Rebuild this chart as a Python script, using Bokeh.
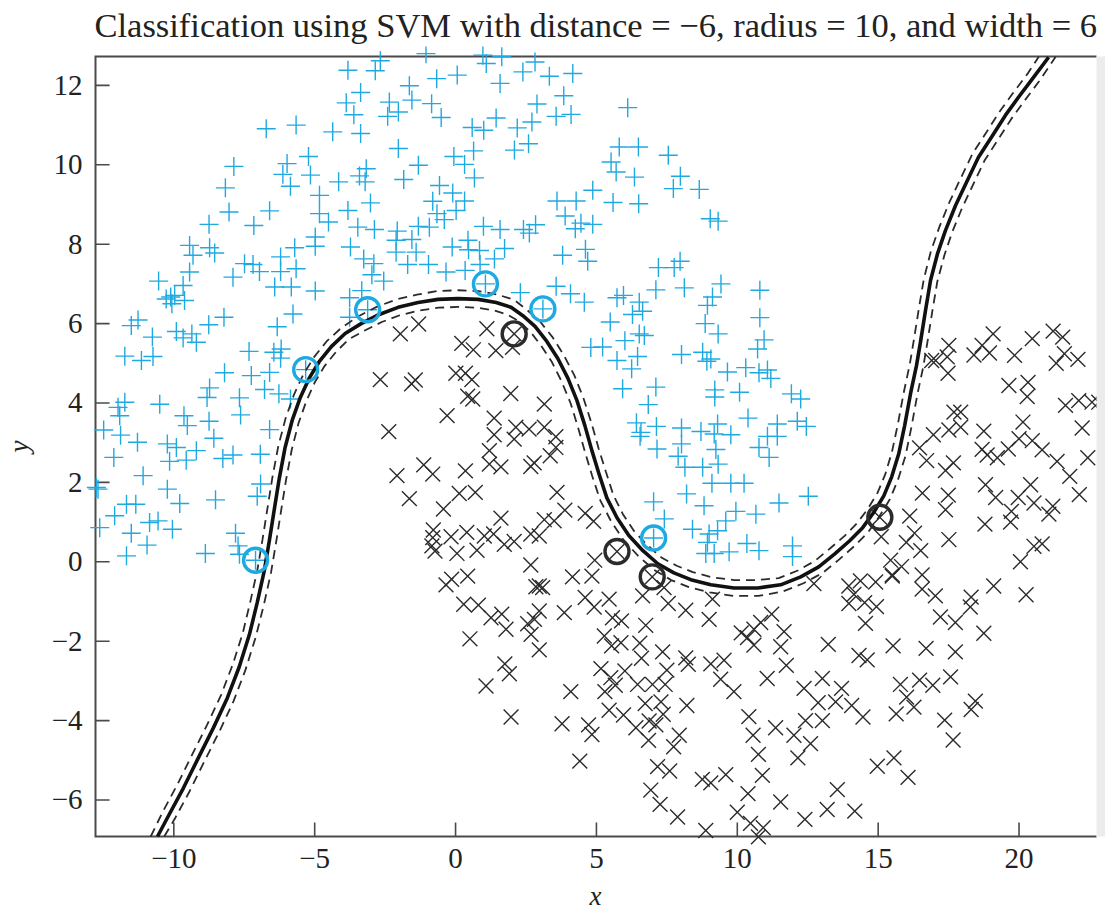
from bokeh.plotting import figure
from bokeh.models import LinearAxis, FixedTicker, Title
from bokeh.embed import file_html
from bokeh.resources import INLINE

title_text = "Classification using SVM with distance = \u22126, radius = 10, and width = 6"
x_ticks = [-10, -5, 0, 5, 10, 15, 20]
y_ticks = [-6, -4, -2, 0, 2, 4, 6, 8, 10, 12]
x_limits = [-12.78, 22.75]
y_limits = [-6.92, 12.73]

plus_points = [
(-3.82,12.38),(-2.67,12.62),(-2.85,12.37),(-1.05,12.8),(-0.67,12.17),(-1.64,11.99),(-3.37,11.82),(-3.88,11.56),
(-2.35,11.58),(-1.55,11.63),(-0.85,11.54),(-3.61,11.26),(-2.41,11.22),(-2.03,11.33),(-0.51,11.19),(-6.72,10.91),
(-5.66,11.0),(-4.36,10.83),(-3.37,10.79),(-2.03,10.41),(-7.87,9.96),(-5.22,10.21),(-5.98,10.03),(-6.13,9.76),
(-5.15,9.74),(-5.86,9.46),(-4.15,9.57),(-3.17,9.9),(-3.41,9.72),(-3.21,9.57),(-1.32,9.99),(-1.84,9.63),(-0.57,9.48),
(-8.17,9.42),(-8.04,8.81),(-6.6,8.84),(-7.16,8.47),(-8.75,8.5),(-4.83,9.23),(-4.83,8.77),(-4.51,8.56),(-3.82,8.85),
(-3.02,9.04),(-3.47,8.43),(-2.88,8.37),(-0.81,9.08),(-0.66,8.77),(-0.4,8.62),(-2.07,8.33),(-1.32,8.45),(-0.93,8.43),
(-2.11,8.1),(-1.55,8.12),(-2.11,7.8),(-1.4,7.8),(-1.7,7.49),(-0.96,7.49),(-0.34,7.3),(-4.98,8.18),(-4.98,7.95),
(-5.71,7.91),(-3.73,7.93),(-3.26,7.63),(-2.9,7.51),(-2.97,7.23),(-2.55,7.07),(-9.44,7.97),(-9.32,7.72),(-8.73,7.91),
(-8.55,7.78),(-7.49,7.51),(-7.19,7.49),(-6.96,7.31),(-6.21,7.68),(-6.21,7.31),(-5.66,7.38),(-7.9,7.17),(-9.44,7.3),
(-9.67,6.96),(-10.54,7.07),(-9.97,6.71),(-10.27,6.62),(-10.11,6.67),(-9.62,6.58),(-10.07,6.5),(-6.42,6.92),(-5.83,6.92),
(-4.98,6.82),(-3.33,6.83),(-3.76,6.65),
(-11.27,6.09),(-11.51,5.95),(-10.76,5.66),(-10.74,5.17),(-11.15,5.07),(-11.74,5.18),(-9.91,5.8),(-9.67,5.64),(-9.36,5.74),
(-9.2,5.53),(-8.76,5.97),(-8.22,6.16),(-5.77,6.24),(-6.33,5.92),(-3.76,6.16),(-7.33,5.3),(-6.45,5.28),(-6.19,5.36),
(-6.21,5.13),(-8.2,4.76),(-7.25,4.69),(-6.6,4.77),(-6.78,4.34),(-6.27,4.23),(-5.86,4.1),(-8.73,4.38),(-8.82,4.14),
(-7.67,4.13),(-7.63,3.7),(-10.5,3.97),(-11.74,4.02),(-11.98,3.89),(-11.92,3.68),(-9.64,3.68),(-9.52,3.43),(-8.75,3.54),
(-12.49,3.32),(-11.89,3.19),(-11.29,3.01),(-10.23,2.97),(-9.91,2.88),(-8.58,3.11),(-6.6,3.33),(-9.2,2.8),(-10.15,2.53),
(-9.56,2.56),(-8.26,2.6),(-7.9,2.69),(-6.93,2.71),(-12.13,2.63),(-11.09,2.17),(-12.75,1.87),(-12.69,1.83),(-6.92,1.96),
(-7.04,1.65),(-10.23,1.83),(-9.79,1.47),(-8.52,1.56),(-11.68,1.45),(-11.35,1.45),(-12.1,1.16),(-12.63,0.86),(-11.51,0.72),
(-10.86,0.99),(-10.56,1.03),(-10.05,0.82),(-10.95,0.42),(-11.68,0.15),(-8.88,0.21),(-7.81,0.72),(-7.72,0.4),(-7.67,0.19),
(0.97,12.76),(1.09,12.55),(1.64,12.72),(2.82,12.59),(2.39,12.34),(3.33,12.23),(4.16,12.3),(0.06,12.26),(1.58,12.05),
(3.84,11.74),(2.89,11.53),(3.57,11.22),(4.1,11.27),(6.11,11.44),(1.44,11.18),(2.71,11.08),(2.19,10.93),(0.59,10.94),
(1.0,10.87),(2.59,10.53),(2.09,10.37),(0.64,10.35),(-0.06,10.21),(0.32,10.01),(0.67,9.67),(5.81,10.45),(6.49,10.45),
(7.55,10.24),(5.52,10.07),(5.7,9.82),(6.35,9.69),(7.98,9.71),(7.73,9.4),(8.65,9.38),(4.87,9.36),(3.6,9.09),(4.28,9.09),
(5.59,9.05),(6.5,9.02),(3.89,8.71),(4.45,8.53),(4.25,8.39),(4.87,8.5),(9.04,8.64),(9.32,8.58),(-0.1,9.29),(0.32,9.09),
(0.02,8.85),(0.99,8.45),(1.58,8.37),(2.41,8.37),(2.84,8.49),(2.62,8.28),(0.44,8.1),(-0.12,7.93),(0.85,7.84),(0.46,7.86),
(1.74,7.89),(1.38,7.63),(0.87,7.49),(3.8,7.72),(4.61,7.87),(4.69,7.57),(0.34,7.34),(7.2,7.41),(7.76,7.41),(7.97,7.57),
(2.3,6.78),(3.57,6.94),(4.08,6.75),(4.57,6.54),(4.8,5.4),
(5.73,6.65),(5.96,6.71),(6.52,6.54),(7.11,6.85),(8.12,6.9),(9.42,7.0),(10.8,6.84),(9.12,6.67),(8.94,6.46),(6.64,6.31),
(6.28,6.23),(10.8,6.15),(8.86,6.0),(5.49,6.04),(9.32,5.74),(6.52,5.74),(6.7,5.7),(6.01,5.57),(10.95,5.59),(10.72,5.36),
(5.22,5.41),(8.02,5.22),(8.77,5.28),(6.46,5.17),(9.06,5.11),(5.73,5.07),(8.92,5.05),(6.25,4.86),(9.65,4.78),(10.3,4.89),
(10.77,4.76),(11.07,4.83),(11.19,4.62),(5.93,4.36),(7.11,4.4),(9.2,4.33),(9.2,4.15),(10.08,4.27),(11.92,4.23),(12.25,4.1),
(6.84,3.96),(6.42,3.5),(6.58,3.26),(6.55,3.16),(7.13,3.41),(7.15,2.84),(8.02,3.37),(8.02,2.97),(8.71,3.28),(9.3,3.47),
(9.18,3.22),(9.77,3.2),(10.38,3.62),(11.42,3.47),(12.13,3.54),(12.45,3.41),(11.07,3.16),(11.42,3.16),(10.77,2.88),
(11.13,2.63),(9.24,2.83),(7.9,2.66),(8.14,2.38),(8.77,2.38),(9.32,2.46),(9.1,1.98),(9.77,1.98),(10.24,1.98),(8.2,1.71),
(7.03,1.51),(8.82,1.41),(11.48,1.48),(12.52,1.65),(7.41,1.08),(9.95,1.27),(10.66,1.2),(9.59,1.03),(9.3,0.78),(8.41,0.82),
(9.0,0.7),(8.94,0.49),(10.34,0.46),(10.77,0.28),(11.96,0.4),(11.96,0.13),(8.88,0.21),(9.18,0.21),(9.71,0.25),
(-7.1,0.04),(-5.32,4.84),(-3.12,6.35),(1.06,7.0),(3.1,6.37),(7.03,0.6),
]

cross_points = [
(-1.96,5.74),(-1.31,5.99),(1.11,5.87),(0.22,5.5),(0.63,5.34),(1.43,5.32),(2.08,5.74),(2.02,5.4),(-2.67,4.59),(-1.56,4.48),
(-1.43,4.58),(0.01,4.75),(0.35,4.75),(0.58,4.59),(0.43,4.17),(0.61,4.1),(1.96,4.24),(3.15,3.97),(-0.3,3.68),(1.37,3.62),
(-2.37,3.28),(1.37,3.2),(2.08,3.09),(2.14,3.39),(2.61,3.34),(3.15,3.39),(3.56,3.15),(3.56,2.88),(3.36,2.67),(1.2,2.8),
(1.2,2.46),(1.61,2.39),(2.79,2.49),(2.67,2.4),(-1.13,2.44),(-0.81,2.21),(0.35,2.29),(-2.08,2.17),(-1.64,1.59),(0.13,1.72),
(0.7,1.75),(3.6,1.75),(-0.43,1.33),(3.88,1.3),(4.6,1.22),(4.9,1.02),(1.61,1.1),(3.15,1.06),(3.5,1.03),(-0.79,0.8),(-0.81,0.61),
(-0.84,0.4),(-0.73,0.27),(-0.16,0.63),(0.4,0.74),(1.02,0.65),(1.35,0.7),(0.05,0.21),(0.76,0.29),(1.73,0.44),(2.08,0.51),
(2.67,0.7),(2.97,0.65),(2.67,-0.08),(4.94,0.04),
(-0.34,-0.58),(0.43,-0.36),(-0.14,-0.44),(0.29,-1.07),(0.81,-1.09),(1.26,-1.41),(1.64,-1.32),(1.79,-1.7),(0.51,-1.94),
(2.97,-0.61),(3.09,-0.65),(2.85,-0.63),(4.15,-0.38),(4.84,-0.36),(2.97,-1.24),(3.86,-1.28),(2.8,-1.45),(2.56,-1.56),
(2.68,-1.83),(2.97,-2.22),(4.6,-0.9),(5.45,-0.94),(4.92,-1.14),(5.57,-1.41),(5.89,-1.49),(6.64,-0.86),(7.4,-0.65),
(7.55,-1.05),(8.17,-1.22),(9.12,-0.94),(9.0,-1.45),(6.75,-1.6),(5.28,-1.87),(5.54,-2.12),(5.87,-2.04),(6.54,-2.05),
(6.6,-2.43),(7.35,-2.27),(8.17,-2.42),(8.26,-2.58),(9.06,-2.57),(9.53,-2.48),(9.41,-2.96),(1.75,-2.57),(1.91,-2.82),
(1.08,-3.13),(5.16,-2.69),(5.51,-2.92),(5.67,-3.11),(5.3,-3.27),(6.01,-2.75),(6.46,-3.09),(6.99,-3.09),(7.44,-3.09),
(7.5,-2.73),(4.09,-3.27),(1.97,-3.91),(3.78,-4.08),(4.72,-4.11),(4.84,-4.35),(5.45,-3.74),(5.96,-3.86),(6.73,-3.57),
(7.29,-3.53),(7.37,-3.84),(8.21,-3.62),(6.4,-4.18),(6.87,-4.01),(7.11,-4.11),(6.85,-4.5),(7.94,-4.37),(7.74,-4.66),
(4.41,-5.02),(7.17,-5.16),(7.6,-5.27),(6.93,-5.75),(7.26,-6.11),(7.88,-6.43),(8.88,-6.77),(8.76,-5.48),(9.06,-5.57),(9.59,-5.36),
(12.72,-0.55),(13.96,-0.61),(14.37,-0.48),(14.91,-0.51),(15.5,-0.36),(16.56,-0.33),(14.14,-0.82),(13.96,-1.05),(14.52,-1.03),
(14.94,-1.13),(16.56,-0.69),(17.03,-0.86),(18.3,-0.89),(18.27,-1.14),(19.1,-0.61),(14.55,-1.55),(17.21,-1.39),(17.74,-1.53),
(18.75,-1.8),(11.22,-1.32),(10.83,-1.53),(10.14,-1.79),(10.59,-1.7),(11.66,-1.76),(11.54,-2.14),(10.59,-2.1),(10.36,-1.91),
(11.74,-2.61),(11.06,-2.94),(9.88,-3.27),(13.23,-2.08),(14.32,-2.36),(14.61,-2.47),(15.53,-2.12),(16.7,-2.18),(17.74,-2.27),
(12.37,-3.19),(13.02,-2.94),(13.7,-3.19),(13.49,-3.53),(12.87,-3.55),(14.06,-3.62),(14.46,-3.91),(15.79,-3.09),(16.47,-2.98),
(16.94,-3.11),(17.57,-2.9),(16.01,-3.41),(16.27,-3.66),(15.64,-3.83),(18.45,-3.51),(18.3,-3.72),(17.36,-3.99),(17.66,-4.49),
(10.41,-3.9),(10.56,-4.37),(11.36,-4.18),(12.01,-4.37),(12.42,-4.0),(13.02,-4.0),(12.6,-4.58),(12.15,-4.94),(10.75,-4.85),
(10.89,-5.38),(10.38,-5.84),(11.54,-6.05),(10.0,-6.31),(10.47,-6.59),(10.92,-6.7),(10.75,-6.93),(12.4,-6.49),(13.19,-6.24),
(13.55,-5.74),(14.17,-6.28),(14.97,-5.15),(15.56,-4.94),(16.06,-5.43),
(19.08,5.74),(17.51,5.45),(18.69,5.45),(18.4,5.21),(18.95,5.26),(17.45,5.16),(17.04,5.07),(17.48,4.75),(16.9,5.07),(20.47,5.62),
(21.21,5.81),(21.55,5.66),(19.84,5.2),(21.61,5.24),(22.09,5.1),(21.32,5.0),(19.64,4.44),(20.32,4.52),(20.29,4.16),(21.65,3.94),
(22.12,4.06),(22.59,4.02),(22.83,4.02),(22.24,3.37),(17.69,3.77),(17.93,3.77),(17.93,3.39),(17.51,3.32),(16.96,3.2),(16.47,2.87),
(16.72,2.55),(18.75,3.29),(20.14,3.52),(18.69,2.83),(18.87,2.69),(19.23,2.62),(19.62,2.84),(20.0,3.1),(20.47,3.05),(20.82,2.82),
(21.35,2.53),(22.44,2.62),(21.8,2.15),(17.67,2.49),(17.39,2.3),(16.57,1.73),(17.49,1.68),(17.39,1.31),(18.81,1.94),(19.17,1.62),
(19.97,1.62),(20.41,1.94),(20.53,1.48),(22.14,1.69),(21.2,1.4),(21.06,1.2),(19.73,1.27),(19.7,1.0),(18.79,0.95),(16.12,1.15),
(16.29,0.72),(16.0,0.49),(16.51,0.28),(15.11,0.63),(15.06,1.12),(17.51,0.56),(20.82,0.45),(20.53,0.39),(20.05,0.0),(15.44,0.04),
(15.83,-0.12),(15.5,-0.33),(20.25,-0.83),(5.73,0.26),(6.98,-0.38),
]

sv_plus = [(-7.1,0.04),(-5.32,4.84),(-3.12,6.35),(1.06,7.0),(3.1,6.37),(7.03,0.6)]
sv_cross = [(2.08,5.74),(5.73,0.26),(6.98,-0.38),(15.06,1.12)]

boundary = [(-10.58,-6.92),(-10.16,-6.36),(-9.66,-5.7),(-9.13,-4.94),(-8.6,-4.19),(-8.1,-3.43),(-7.68,-2.65),(-7.32,-1.84),
(-7.04,-1.03),(-6.79,-0.23),(-6.61,0.53),(-6.44,1.29),(-6.26,2.09),(-6.05,2.88),(-5.8,3.56),(-5.51,4.14),(-5.2,4.62),(-4.84,5.04),
(-4.41,5.42),(-3.92,5.75),(-3.35,6.0),(-2.71,6.23),(-2.04,6.41),(-1.33,6.53),(-0.62,6.61),(0.09,6.63),(0.8,6.61),(1.44,6.53),
(1.97,6.41),(2.39,6.2),(2.82,5.93),(3.24,5.55),(3.63,5.12),(3.99,4.62),(4.31,4.06),(4.59,3.43),(4.84,2.8),(5.09,2.22),(5.37,1.61),
(5.73,1.11),(6.15,0.66),(6.65,0.28),(7.18,-0.05),(7.75,-0.28),(8.35,-0.45),(9.06,-0.58),(9.88,-0.66),(10.73,-0.66),(11.54,-0.58),
(12.25,-0.38),(12.89,-0.13),(13.46,0.2),(13.99,0.53),(14.45,0.86),(14.84,1.24),(15.2,1.66),(15.48,2.14),(15.73,2.72),(15.94,3.43),(16.15,4.24),
(16.36,4.94),(16.51,5.57),(16.68,6.33),(16.86,7.09),(17.11,7.77),(17.39,8.35),(17.75,8.98),(18.17,9.61),(18.56,10.19),(19.06,10.74),
(19.52,11.25),(19.98,11.7),(20.52,12.21),(21.05,12.71)]
margin_upper = [(-10.82,-6.92),(-10.38,-6.28),(-9.88,-5.62),(-9.35,-4.86),(-8.82,-4.11),(-8.32,-3.35),(-7.9,-2.57),(-7.55,-1.79),
(-7.28,-0.99),(-7.03,-0.19),(-6.85,0.57),(-6.68,1.33),(-6.5,2.13),(-6.29,2.92),(-6.03,3.62),(-5.73,4.22),(-5.41,4.71),(-5.03,5.15),
(-4.58,5.55),(-4.06,5.89),(-3.46,6.18),(-2.8,6.42),(-2.1,6.61),(-1.37,6.73),(-0.64,6.82),(0.09,6.84),(0.82,6.82),(1.49,6.73),
(2.08,6.6),(2.54,6.34),(2.99,6.06),(3.44,5.66),(3.84,5.21),(4.22,4.69),(4.54,4.12),(4.83,3.48),(5.08,2.85),(5.33,2.28),(5.6,1.68),
(5.94,1.2),(6.34,0.77),(6.82,0.41),(7.32,0.1),(7.85,-0.1),(8.42,-0.26),(9.1,-0.39),(9.89,-0.46),(10.71,-0.46),(11.47,-0.41),
(12.15,-0.22),(12.75,0.02),(13.3,0.34),(13.82,0.66),(14.26,0.98),(14.64,1.34),(14.98,1.74),(15.25,2.2),(15.49,2.77),(15.7,3.47),(15.91,4.27),
(16.12,4.97),(16.27,5.6),(16.44,6.36),(16.62,7.12),(16.87,7.82),(17.16,8.41),(17.53,9.06),(17.95,9.69),(18.35,10.28),(18.86,10.84),
(19.32,11.35),(19.78,11.8),(20.32,12.31),(20.7,12.72)]
margin_lower = [(-10.34,-6.92),(-9.94,-6.44),(-9.44,-5.78),(-8.91,-5.02),(-8.38,-4.27),(-7.88,-3.51),(-7.46,-2.73),(-7.09,-1.89),
(-6.8,-1.07),(-6.55,-0.27),(-6.37,0.49),(-6.2,1.25),(-6.02,2.05),(-5.81,2.84),(-5.57,3.5),(-5.29,4.06),(-4.99,4.53),(-4.65,4.93),
(-4.24,5.29),(-3.78,5.61),(-3.24,5.82),(-2.62,6.04),(-1.98,6.21),(-1.29,6.33),(-0.6,6.4),(0.09,6.42),(0.78,6.4),(1.39,6.33),
(1.86,6.22),(2.24,6.06),(2.65,5.8),(3.04,5.44),(3.42,5.03),(3.76,4.55),(4.08,4.0),(4.35,3.38),(4.6,2.75),(4.85,2.16),(5.14,1.54),
(5.52,1.02),(5.96,0.55),(6.48,0.15),(7.04,-0.2),(7.65,-0.46),(8.28,-0.64),(9.02,-0.77),(9.87,-0.86),(10.75,-0.86),(11.61,-0.75),
(12.35,-0.54),(13.03,-0.28),(13.62,0.06),(14.16,0.4),(14.64,0.74),(15.04,1.14),(15.42,1.58),(15.71,2.08),(15.97,2.67),(16.18,3.39),(16.39,4.21),
(16.6,4.91),(16.75,5.54),(16.92,6.3),(17.1,7.06),(17.35,7.72),(17.62,8.29),(17.97,8.9),(18.39,9.53),(18.77,10.1),(19.26,10.64),
(19.72,11.15),(20.18,11.6),(20.72,12.11),(21.3,12.72)]

BLUE = "#1fa9e1"
DARK = "#2b2b2b"
AXC = "#4a4a4a"
FONT = "Liberation Serif"

def xs(pts): return [a for a, _ in pts]
def ys(pts): return [b for _, b in pts]

p = figure(width=1105, height=913, x_range=(-13.135, 23.069), y_range=(-7.172, 12.98),
           output_backend="svg", toolbar_location=None, x_axis_type=None, y_axis_type=None,
           min_border_left=84, min_border_right=0, min_border_top=46, min_border_bottom=67)
p.outline_line_color = None
p.grid.visible = False
p.background_fill_color = "white"
p.border_fill_color = "white"

xa = LinearAxis(ticker=FixedTicker(ticks=x_ticks),
                major_label_overrides={t: str(t).replace("-", "\u2212") for t in x_ticks})
ya = LinearAxis(ticker=FixedTicker(ticks=y_ticks),
                major_label_overrides={t: str(t).replace("-", "\u2212") for t in y_ticks})
xa.axis_label = "x"
ya.axis_label = "y"
for a in (xa, ya):
    a.axis_line_color = None
    a.major_tick_line_color = None
    a.minor_tick_line_color = None
    a.major_tick_in = 0
    a.major_tick_out = 0
    a.major_label_text_font = FONT
    a.major_label_text_font_size = "29px"
    a.major_label_text_color = "#222222"
    a.axis_label_text_font = FONT
    a.axis_label_text_font_style = "italic"
    a.axis_label_text_font_size = "27px"
    a.axis_label_text_color = "#222222"
xa.major_label_standoff = 2
ya.major_label_standoff = 3
xa.axis_label_standoff = 10
ya.axis_label_standoff = 15
p.add_layout(xa, "below")
p.add_layout(ya, "left")

p.add_layout(Title(text=title_text, text_font=FONT, text_font_size="34.5px", text_font_style="normal",
                   text_color="#222222", align="left", standoff=5, offset=9), "above")

# frame and tick marks at the axis limits
p.line([x_limits[1], x_limits[0], x_limits[0], x_limits[1]],
       [y_limits[1], y_limits[1], y_limits[0], y_limits[0]],
       line_color=AXC, line_width=2, line_join="miter")
p.segment(x_ticks, [y_limits[0]] * len(x_ticks), x_ticks, [y_limits[0] + 0.35] * len(x_ticks),
          line_color=AXC, line_width=1.6)
p.segment([x_limits[0]] * len(y_ticks), y_ticks, [x_limits[0] + 0.5] * len(y_ticks), y_ticks,
          line_color=AXC, line_width=1.6)

p.scatter(xs(plus_points), ys(plus_points), marker="cross", size=19, fill_color=None, line_color=BLUE, line_width=1.4)
p.scatter(xs(cross_points), ys(cross_points), marker="x", size=21, fill_color=None, line_color=DARK, line_width=1.4)
p.line(xs(margin_upper), ys(margin_upper), line_color=DARK, line_width=1.8, line_dash="9 6")
p.line(xs(margin_lower), ys(margin_lower), line_color=DARK, line_width=1.8, line_dash="9 6")
p.line(xs(boundary), ys(boundary), line_color="#111111", line_width=3.6, line_join="round")
p.scatter(xs(sv_plus), ys(sv_plus), marker="circle", size=24, fill_color=None, line_color=BLUE, line_width=3.4)
p.scatter(xs(sv_cross), ys(sv_cross), marker="circle", size=24, fill_color=None, line_color=DARK, line_width=3.4)

# pale strip at the right edge of the page
p.quad(left=[x_limits[1]], right=[23.069], top=[y_limits[1]], bottom=[y_limits[0]],
       fill_color="#ececec", line_color=None)

open("out.html", "w").write(file_html(p, INLINE))
